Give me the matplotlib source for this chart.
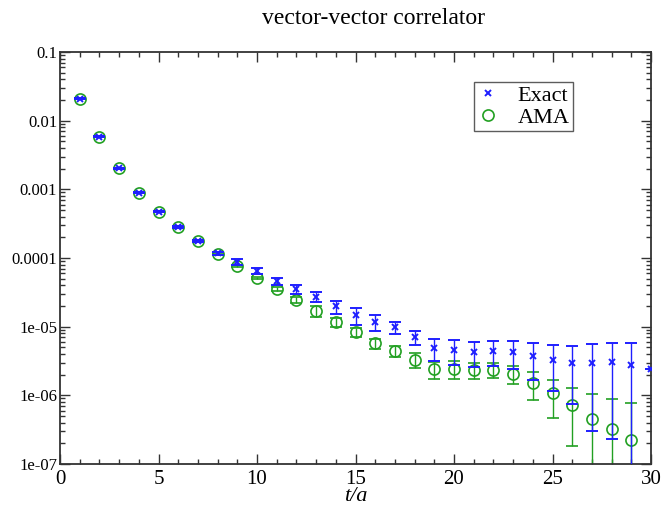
import numpy as np
import matplotlib
matplotlib.use("Agg")
import matplotlib.pyplot as plt
from matplotlib.lines import Line2D
from matplotlib.ticker import LogLocator, MultipleLocator, FixedLocator

# t/a values
t_exact = [1, 2, 3, 4, 5, 6, 7, 8, 9, 10, 11, 12, 13, 14, 15,
           16, 17, 18, 19, 20, 21, 22, 23, 24, 25, 26, 27, 28, 29, 30]
c_exact = [2.1e-2, 5.85e-3, 2.02e-3, 8.93e-4, 4.73e-4, 2.80e-4, 1.77e-4, 1.17e-4,
           8.75e-5, 6.47e-5, 4.63e-5, 3.54e-5, 2.71e-5, 1.97e-5, 1.48e-5,
           1.17e-5, 9.73e-6, 7.08e-6, 4.89e-6, 4.57e-6, 4.28e-6, 4.43e-6,
           4.28e-6, 3.74e-6, 3.27e-6, 2.99e-6, 2.93e-6, 3.03e-6, 2.79e-6, 2.44e-6]
e_exact = [4e-4, 1.2e-4, 4e-5, 2e-5, 1.2e-5, 8e-6, 6e-6, 5e-6,
           8e-6, 6.5e-6, 5.3e-6, 5e-6, 4.5e-6, 4.3e-6, 4.2e-6,
           3.1e-6, 1.9e-6, 1.6e-6, 1.75e-6, 1.8e-6, 1.7e-6, 1.75e-6,
           1.86e-6, 2.04e-6, 2.1e-6, 2.25e-6, 2.63e-6, 2.8e-6, 3.06e-6, 0.0]

t_ama = [1, 2, 3, 4, 5, 6, 7, 8, 9, 10, 11, 12, 13, 14, 15,
         16, 17, 18, 19, 20, 21, 22, 23, 24, 25, 26, 27, 28, 29]
c_ama = [2.1e-2, 5.85e-3, 2.02e-3, 8.93e-4, 4.73e-4, 2.80e-4, 1.77e-4, 1.15e-4,
         7.65e-5, 5.12e-5, 3.54e-5, 2.45e-5, 1.69e-5, 1.17e-5, 8.37e-6,
         5.69e-6, 4.43e-6, 3.27e-6, 2.42e-6, 2.44e-6, 2.34e-6, 2.36e-6,
         2.05e-6, 1.51e-6, 1.08e-6, 7.31e-7, 4.53e-7, 3.24e-7, 2.24e-7]
e_ama = [3e-4, 8e-5, 3e-5, 1.5e-5, 8e-6, 5e-6, 4e-6, 3.5e-6,
         3e-6, 2.5e-6, 2.8e-6, 2.1e-6, 2.9e-6, 1.8e-6, 1.2e-6,
         0.95e-6, 0.86e-6, 0.8e-6, 0.68e-6, 0.7e-6, 0.62e-6, 0.58e-6,
         0.6e-6, 0.65e-6, 0.62e-6, 0.55e-6, 0.58e-6, 0.57e-6, 0.54e-6]

y_ticks = [1e-7, 1e-6, 1e-5, 1e-4, 1e-3, 1e-2, 1e-1]
y_ticklabels = ["1e-07", "1e-06", "1e-05", "0.0001", "0.001", "0.01", "0.1"]

BLUE = "#1f1fff"
GREEN = "#22a022"

plt.rcParams['font.family'] = ['Liberation Serif', 'DejaVu Serif']

fig = plt.figure(figsize=(6.65, 5.08), dpi=100)
ax = fig.add_axes([60/665, 44/508, 591/665, 412/508])

ax.errorbar(t_ama, c_ama, yerr=e_ama, fmt='o', ms=8, mfc='none', mec=GREEN, mew=1.2,
            ecolor=GREEN, elinewidth=1.0, capsize=4.3, capthick=1.0, zorder=2)
ax.errorbar(t_exact, c_exact, yerr=e_exact, fmt='x', ms=5, mec=BLUE, mew=1.4,
            ecolor=BLUE, elinewidth=1.0, capsize=4.3, capthick=1.0, zorder=3)

ax.set_yscale('log', nonpositive='clip')
ax.set_xlim(0, 30)
ax.set_ylim(1e-7, 1e-1)

ax.xaxis.set_major_locator(MultipleLocator(5))
ax.xaxis.set_minor_locator(MultipleLocator(1))
ax.yaxis.set_major_locator(FixedLocator(y_ticks))
ax.yaxis.set_minor_locator(LogLocator(base=10, subs=np.arange(2, 10), numticks=20))
ax.set_yticklabels(y_ticklabels)
ax.yaxis.set_minor_formatter(plt.NullFormatter())

ax.tick_params(which='both', direction='in', top=True, right=True, color='#333333')
ax.tick_params(which='major', length=7.5, width=1.0)
ax.tick_params(which='minor', length=3.8, width=1.0)
ax.tick_params(axis='x', labelsize=15, pad=4)
ax.tick_params(axis='y', labelsize=12, pad=2)
for sp in ax.spines.values():
    sp.set_linewidth(1.3)
    sp.set_color('#333333')

ax.set_xlabel("t/a", fontsize=16, style='italic', labelpad=-1)
fig.text(374/665, 1 - 19/508, "vector-vector correlator", ha='center', va='center', fontsize=17)

handles = [Line2D([], [], ls='none', marker='x', ms=5, mec=BLUE, mew=1.4),
           Line2D([], [], ls='none', marker='o', ms=8, mfc='none', mec=GREEN, mew=1.2)]
leg = ax.legend(handles, ["Exact", "AMA"], loc='upper left', bbox_to_anchor=(0.7005, 0.927),
                fontsize=16, frameon=True, fancybox=False, edgecolor='#333333',
                handlelength=1.0, handletextpad=0.8, borderpad=0.15, labelspacing=0.05,
                borderaxespad=0)
leg.get_frame().set_linewidth(1.0)

fig.savefig("out.png", dpi=100)
